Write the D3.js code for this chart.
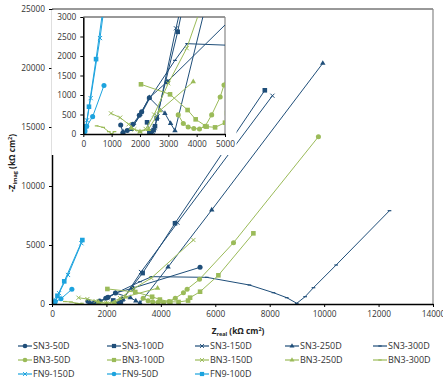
<!DOCTYPE html>
<html>
<head>
<meta charset="utf-8">
<script src="https://cdn.jsdelivr.net/npm/d3@7"></script>
<style>
  body { margin: 0; background: #fff; }
  svg { font-family: "Open Sans", "Liberation Sans", sans-serif; }
</style>
</head>
<body>
<svg id="chart" width="443" height="379"></svg>
<script>
// series data [Zreal, -Zimag] in kOhm cm2
const sn3_50 = [[1320,230],[1400,30],[1550,90],[1750,250],[1976,480],[2060,570],[2330,930],[2965,1342],[5440,3110]];
const sn3_100 = [[2250,300],[2330,60],[2400,20],[2480,100],[2530,200],[2590,400],[3330,2620],[4520,6840],[7820,18110]];
const sn3_150 = [[2380,30],[2450,60],[2520,150],[2620,450],[3270,2710],[4610,6890],[8100,17650]];
const sn3_250 = [[1400,60],[1700,120],[2000,500],[2330,930],[2880,530],[3080,270],[3235,85],[4265,3135],[5870,7970],[9950,20400]];
const sn3_300 = [[1400,50],[1600,100],[1800,250],[2050,520],[2330,900],[3235,1890],[3664,2316],[5686,2260],[7254,1610],[8137,960],[8625,536],[8995,60],[9301,620],[9607,1380],[10441,3305],[12401,7907]];
const bn3_50 = [[3350,490],[3530,270],[3700,180],[3900,140],[4100,130],[4300,200],[4530,490],[4830,950],[4965,1256],[5420,2090],[6670,5195],[9790,14180]];
const bn3_100 = [[2035,1274],[3060,1017],[3680,615],[3965,376],[4350,190],[4650,170],[5000,290],[5074,536],[5441,1042],[6114,2432],[7400,5989]];
const bn3_150 = [[976,530],[1300,420],[1600,250],[1800,120],[2000,60],[2200,130],[2500,500],[3000,1300],[3650,2200],[5196,5424]];
const bn3_250 = [[1700,150],[2000,60],[2300,120],[2700,600],[3880,1340]];
const bn3_300 = [[470,210],[700,170],[900,60],[1000,10],[1100,60]];
const fn9_150 = [[0,0],[60,100],[130,350],[260,920],[590,2460],[1080,5150]];
const fn9_50 = [[0,0],[20,20],[60,80],[120,200],[330,445],[730,1245]];
const fn9_100 = [[0,0],[50,80],[100,200],[200,700],[450,1920],[1115,5420]];

const xTicksMain = d3.range(0, 14001, 2000);
const yTicksMain = d3.range(0, 25001, 5000);
const xTicksInset = d3.range(0, 5001, 1000);
const yTicksInset = d3.range(0, 3001, 500);

const dark = "#1f4e79", green = "#9bbb59", light = "#1ca3de";

const series = [
  {name: "SN3-50D", data: sn3_50, color: dark, marker: "circle"},
  {name: "SN3-100D", data: sn3_100, color: dark, marker: "square"},
  {name: "SN3-150D", data: sn3_150, color: dark, marker: "x"},
  {name: "SN3-250D", data: sn3_250, color: dark, marker: "triangle"},
  {name: "SN3-300D", data: sn3_300, color: dark, marker: "dash"},
  {name: "BN3-50D", data: bn3_50, color: green, marker: "circle"},
  {name: "BN3-100D", data: bn3_100, color: green, marker: "square"},
  {name: "BN3-150D", data: bn3_150, color: green, marker: "x"},
  {name: "BN3-250D", data: bn3_250, color: green, marker: "triangle"},
  {name: "BN3-300D", data: bn3_300, color: green, marker: "dash"},
  {name: "FN9-150D", data: fn9_150, color: light, marker: "x"},
  {name: "FN9-50D", data: fn9_50, color: light, marker: "circle"},
  {name: "FN9-100D", data: fn9_100, color: light, marker: "square"}
];

const svg = d3.select("#chart");
svg.append("rect").attr("width", 443).attr("height", 379).attr("fill", "#fff");

function drawMarker(g, type, color, s) {
  if (type === "circle") {
    g.append("circle").attr("r", s * 0.55).attr("fill", color);
  } else if (type === "square") {
    g.append("rect").attr("x", -s * 0.5).attr("y", -s * 0.5).attr("width", s).attr("height", s).attr("fill", color);
  } else if (type === "triangle") {
    g.append("path").attr("d", d3.symbol(d3.symbolTriangle, s * s * 0.6)()).attr("fill", color);
  } else if (type === "x") {
    const h = s * 0.45;
    g.append("path").attr("d", `M${-h},${-h}L${h},${h}M${-h},${h}L${h},${-h}`).attr("stroke", color).attr("stroke-width", 1);
  } else {
    const h = s * 0.4;
    g.append("path").attr("d", `M${-h},0L${h},0`).attr("stroke", color).attr("stroke-width", 1.2);
  }
}

function drawPlot(g, x, y, xTicks, yTicks, ms, clipId) {
  const [x0, x1] = x.range(), [y1, y0] = y.range();
  g.append("clipPath").attr("id", clipId).append("rect")
    .attr("x", x0).attr("y", y0).attr("width", x1 - x0).attr("height", y1 - y0);

  // plot border (top / right)
  g.append("line").attr("x1", x0).attr("x2", x1).attr("y1", y0).attr("y2", y0).attr("stroke", "#333").attr("stroke-width", 1);
  g.append("line").attr("x1", x1).attr("x2", x1).attr("y1", y0).attr("y2", y1).attr("stroke", "#888").attr("stroke-width", 1.2);

  const line = d3.line().x(d => x(d[0])).y(d => y(d[1]));
  const pg = g.append("g").attr("clip-path", `url(#${clipId})`);
  series.forEach(s => {
    pg.append("path").attr("d", line(s.data)).attr("fill", "none").attr("stroke", s.color).attr("stroke-width", 1);
    s.data.forEach(d => {
      const m = pg.append("g").attr("transform", `translate(${x(d[0])},${y(d[1])})`);
      drawMarker(m, s.marker, s.color, ms);
    });
  });

  const ax = g.append("g").attr("transform", `translate(0,${y1})`)
    .call(d3.axisBottom(x).tickValues(xTicks).tickSize(3).tickSizeOuter(0).tickPadding(4).tickFormat(d3.format("d")));
  const ay = g.append("g").attr("transform", `translate(${x0},0)`)
    .call(d3.axisLeft(y).tickValues(yTicks).tickSize(3).tickSizeOuter(0).tickPadding(4).tickFormat(d3.format("d")));
  [ax, ay].forEach(a => {
    a.select(".domain").attr("stroke", "#000").attr("stroke-width", 1.5);
    a.selectAll(".tick line").attr("stroke", "#000");
    a.selectAll("text").attr("fill", "#333").attr("font-size", "8.3px").attr("font-family", "Open Sans, sans-serif");
  });
}

// main chart
const xMain = d3.scaleLinear().domain([0, 14000]).range([52, 433]);
const yMain = d3.scaleLinear().domain([0, 25000]).range([304, 9]);
drawPlot(svg.append("g"), xMain, yMain, xTicksMain, yTicksMain, 4.6, "clipMain");

// inset
const inset = svg.append("g");
inset.append("rect").attr("x", 51.5).attr("y", 10).attr("width", 185).attr("height", 145).attr("fill", "#fff");
const xIn = d3.scaleLinear().domain([0, 5000]).range([83.3, 225]);
const yIn = d3.scaleLinear().domain([0, 3000]).range([134, 17]);
drawPlot(inset, xIn, yIn, xTicksInset, yTicksInset, 4.6, "clipInset");

// axis titles
const xt = svg.append("text").attr("x", 238).attr("y", 334).attr("text-anchor", "middle")
  .attr("font-size", "8.3px").attr("font-weight", "bold").attr("fill", "#222");
xt.append("tspan").text("Z");
xt.append("tspan").attr("font-size", "5.5px").attr("dy", 2).text("real");
xt.append("tspan").attr("dy", -2).text(" (kΩ cm");
xt.append("tspan").attr("font-size", "5.5px").attr("dy", -3).text("2");
xt.append("tspan").attr("dy", 3).text(")");

const yt = svg.append("text").attr("transform", "translate(15,163) rotate(-90)").attr("text-anchor", "middle")
  .attr("font-size", "8.3px").attr("font-weight", "bold").attr("fill", "#222");
yt.append("tspan").text("-Z");
yt.append("tspan").attr("font-size", "5.5px").attr("dy", 2).text("imag");
yt.append("tspan").attr("dy", -2).text(" (kΩ cm");
yt.append("tspan").attr("font-size", "5.5px").attr("dy", -3).text("2");
yt.append("tspan").attr("dy", 3).text(")");

// legend
const colX = [18, 107, 195, 285, 373];
const rowY = [346, 360, 374];
series.forEach((s, i) => {
  const cx = colX[i % 5], cy = rowY[Math.floor(i / 5)];
  const lg = svg.append("g").attr("transform", `translate(${cx},${cy})`);
  lg.append("line").attr("x1", 0).attr("x2", 14).attr("stroke", s.color).attr("stroke-width", 1.2);
  drawMarker(lg.append("g").attr("transform", "translate(7,0)"), s.marker, s.color, 4.2);
  lg.append("text").attr("x", 15).attr("y", 3).attr("font-size", "9px").attr("fill", "#333").text(s.name);
});
</script>
</body>
</html>
